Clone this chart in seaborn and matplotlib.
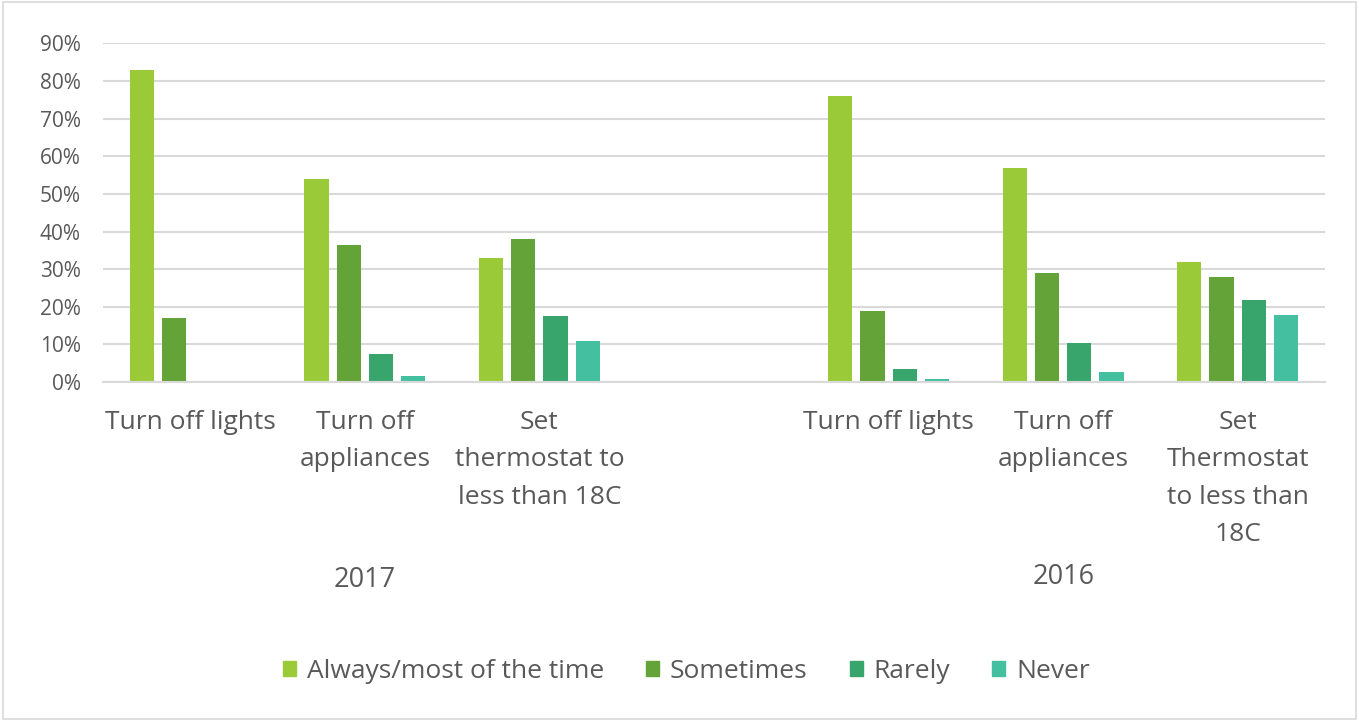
import pandas as pd
import numpy as np
import matplotlib.pyplot as plt
import seaborn as sns
from matplotlib.ticker import FuncFormatter
from matplotlib.patches import Rectangle

sns.set_style('white')
plt.rcParams['font.family'] = ['Open Sans', 'DejaVu Sans']

# data (percent)
slots = ['17_lights', '17_appl', '17_therm', 'gap', '16_lights', '16_appl', '16_therm']
slot_labels = ['Turn off lights', 'Turn off\nappliances', 'Set\nthermostat to\nless than 18C', '',
               'Turn off lights', 'Turn off\nappliances', 'Set\nThermostat\nto less than\n18C']
answers = ['Always/most of the time', 'Sometimes', 'Rarely', 'Never']
colors = ['#9BCA38', '#64A337', '#38A66C', '#44C0A1']

always = [83, 54, 33, 76, 57, 32]
sometimes = [17, 36.5, 38, 19, 29, 28]
rarely = [0, 7.5, 17.5, 3.5, 10.3, 21.8]
never = [0, 1.5, 11, 0.9, 2.8, 17.7]
data_slots = ['17_lights', '17_appl', '17_therm', '16_lights', '16_appl', '16_therm']

years = ['2017', '2016']

rows = []
for ans, vals in zip(answers, [always, sometimes, rarely, never]):
    for s, v in zip(data_slots, vals):
        rows.append({'slot': s, 'answer': ans, 'pct': v / 100})
df = pd.DataFrame(rows)

fig = plt.figure(figsize=(13.59, 7.21), dpi=100)
ax = fig.add_axes([0.0758, 0.470, 0.8992, 0.470])

sns.barplot(data=df, x='slot', y='pct', hue='answer', order=slots, hue_order=answers,
            palette=colors, saturation=1, width=0.74, gap=0.25, linewidth=0, legend=False, ax=ax)

ax.set_ylim(0, 0.9)
ax.set_yticks(np.arange(0, 0.91, 0.1))
ax.yaxis.set_major_formatter(FuncFormatter(lambda x, pos: f'{x*100:.0f}%'))
ax.grid(axis='y', color='#D9D9D9', linewidth=1.5)
ax.set_axisbelow(True)
for side in ['top', 'right', 'left']:
    ax.spines[side].set_visible(False)
ax.spines['bottom'].set_color('#D9D9D9')
ax.spines['bottom'].set_linewidth(1.5)

ax.set_xticks(range(len(slots)))
ax.set_xticklabels(slot_labels, linespacing=1.65, va='top')
ax.tick_params(axis='x', length=0, pad=20, labelsize=19, labelcolor='#595959')
ax.tick_params(axis='y', length=0, pad=16, labelsize=15, labelcolor='#595959')
ax.set_xlabel('')
ax.set_ylabel('')

# group labels under the categories
ax.text(1, -0.584, years[0], transform=ax.get_xaxis_transform(), ha='center', va='center',
        fontsize=19.5, color='#595959')
ax.text(5, -0.575, years[1], transform=ax.get_xaxis_transform(), ha='center', va='center',
        fontsize=19.5, color='#595959')

handles = [Rectangle((0, 0), 1, 1, color=c) for c in colors]
fig.legend(handles, answers, loc='center', bbox_to_anchor=(0.505, 0.069), ncol=4, frameon=False,
           handlelength=0.5, handleheight=0.5, handletextpad=0.4, columnspacing=1.6,
           fontsize=19, labelcolor='#595959')

fig.patches.append(Rectangle((0.002, 0.003), 0.996, 0.994, transform=fig.transFigure,
                             fill=False, edgecolor='#D9D9D9', linewidth=1.2))

fig.savefig('out.png', dpi=100)
